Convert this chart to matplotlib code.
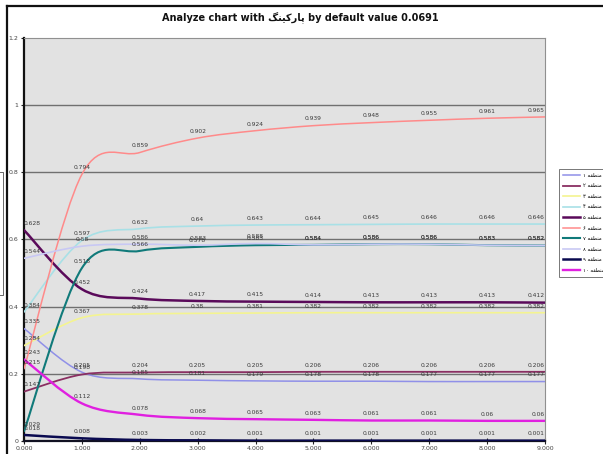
import matplotlib
matplotlib.use("Agg")
import matplotlib.pyplot as plt
import numpy as np
from matplotlib.path import Path
from matplotlib.patches import PathPatch
from matplotlib.lines import Line2D

# ----------------------------------------------------------------------
# DATA
# ----------------------------------------------------------------------
x_vals = [0, 1, 2, 3, 4, 5, 6, 7, 8, 9]
x_labels = ["0.000", "1.000", "2.000", "3.000", "4.000",
            "5.000", "6.000", "7.000", "8.000", "9.000"]

s1 = [0.335, 0.205, 0.185, 0.181, 0.179, 0.178, 0.178, 0.177, 0.177, 0.177]
s2 = [0.147, 0.198, 0.204, 0.205, 0.205, 0.206, 0.206, 0.206, 0.206, 0.206]
s3 = [0.284, 0.367, 0.378, 0.380, 0.381, 0.382, 0.382, 0.382, 0.382, 0.382]
s4 = [0.384, 0.597, 0.632, 0.640, 0.643, 0.644, 0.645, 0.646, 0.646, 0.646]
s5 = [0.628, 0.452, 0.424, 0.417, 0.415, 0.414, 0.413, 0.413, 0.413, 0.412]
s6 = [0.215, 0.794, 0.859, 0.902, 0.924, 0.939, 0.948, 0.955, 0.961, 0.965]
s7 = [0.029, 0.515, 0.566, 0.578, 0.583, 0.584, 0.586, 0.586, 0.583, 0.582]
s8 = [0.544, 0.580, 0.586, 0.583, 0.588, 0.584, 0.586, 0.586, 0.583, 0.582]
s9 = [0.018, 0.008, 0.003, 0.002, 0.001, 0.001, 0.001, 0.001, 0.001, 0.001]
s10 = [0.243, 0.112, 0.078, 0.068, 0.065, 0.063, 0.061, 0.061, 0.060, 0.060]

series = [s1, s2, s3, s4, s5, s6, s7, s8, s9, s10]

# "منطقه" in presentation forms, visual order (matplotlib does no RTL shaping)
WORD = "\uFEEA\uFED8\uFEC4\uFEE8\uFEE3"
DIGITS = ["\u06F1", "\u06F2", "\u06F3", "\u06F4", "\u06F5",
          "\u06F6", "\u06F7", "\u06F8", "\u06F9", "\u06F1\u06F0"]
names = [d + " " + WORD for d in DIGITS]
# "پارکینگ"
PARKING = "\uFB93\uFEE8\uFBFF\uFB90\uFEAD\uFE8E\uFB58"

COLORS = ["#9090e8", "#8a2f62", "#f4f490", "#a8e0e6", "#5a0a5a",
          "#ff8a8a", "#107a7a", "#c8c8f4", "#0a0a50", "#e020e0"]
WIDTHS = [1.1, 1.3, 1.2, 1.2, 1.8, 1.1, 1.5, 1.2, 1.8, 1.7]

PLOT_BG = "#e2e2e2"
GRID = "#707070"
LABEL = "#3a3a3a"


def smooth_path(xs, ys):
    # Excel-style smoothed line: cubic Bezier between the data points
    pts = np.column_stack([xs, ys]).astype(float)
    n = len(pts)
    verts = [pts[0]]
    codes = [Path.MOVETO]
    for i in range(n - 1):
        p0 = pts[max(i - 1, 0)]
        p1 = pts[i]
        p2 = pts[i + 1]
        p3 = pts[min(i + 2, n - 1)]
        c1 = p1 + (p2 - p0) / 6.0
        c2 = p2 - (p3 - p1) / 6.0
        verts += [c1, c2, p2]
        codes += [Path.CURVE4] * 3
    return Path(verts, codes)


W, H, DPI = 603, 454, 100
fig = plt.figure(figsize=(W / DPI, H / DPI), dpi=DPI, facecolor="white")

ax = fig.add_axes([24 / W, 13 / H, 521 / W, 403 / H])
ax.set_facecolor(PLOT_BG)
ax.set_xlim(0, 9)
ax.set_ylim(0, 1.2)

for yv in [0.2, 0.4, 0.6, 0.8, 1.0]:
    ax.axhline(yv, color=GRID, lw=1.0, zorder=1)

for ys, c, lw in zip(series, COLORS, WIDTHS):
    ax.add_patch(PathPatch(smooth_path(x_vals, ys), facecolor="none",
                           edgecolor=c, lw=lw, zorder=3, capstyle="round"))

for ys in series:
    for xv, yv in zip(x_vals, ys):
        ha = "center"
        if xv == x_vals[0]:
            ha = "left"
        elif xv == x_vals[-1]:
            ha = "right"
        txt = f"{yv:.3f}".rstrip("0").rstrip(".")
        ax.annotate(txt, (xv, yv), xytext=(0, 3), textcoords="offset points",
                    ha=ha, va="bottom", fontsize=4.3, color=LABEL, zorder=4)

ax.set_yticks([0, 0.2, 0.4, 0.6, 0.8, 1.0, 1.2])
ax.set_yticklabels(["0", "0.2", "0.4", "0.6", "0.8", "1", "1.2"])
ax.set_xticks(x_vals)
ax.set_xticklabels(x_labels)
ax.tick_params(axis="both", labelsize=4.5, labelcolor="#444444",
               length=2.5, width=0.8, color="#222222", pad=1.5)
ax.tick_params(axis="x", direction="inout", length=4)

for s in ("top", "right"):
    ax.spines[s].set_color("#909090")
    ax.spines[s].set_linewidth(0.8)
ax.spines["left"].set_color("#111111")
ax.spines["left"].set_linewidth(1.6)
ax.spines["bottom"].set_color("#111122")
ax.spines["bottom"].set_linewidth(1.6)

# title
fig.text(300 / W, 1 - 18 / H,
         "Analyze chart with " + PARKING + " by default value 0.0691",
         ha="center", va="center", fontsize=7, weight="bold", color="#111111",
         family=["DejaVu Sans"])

# legend
handles = [Line2D([], [], color=c, lw=lw) for c, lw in zip(COLORS, WIDTHS)]
leg = fig.legend(handles, names, loc="upper left",
                 bbox_to_anchor=(556 / W, 1 - 166 / H), frameon=True,
                 fontsize=3.6, handlelength=3.2, handletextpad=0.6,
                 labelspacing=1.05, borderpad=0.8, fancybox=False,
                 prop={"family": "DejaVu Sans", "size": 3.8})
leg.get_frame().set_edgecolor("#555555")
leg.get_frame().set_linewidth(0.7)

# outer chart frame + neighbour box edge
fig.add_artist(Line2D([7 / W, 7 / W], [0, 1 - 6 / H], color="#111111",
                      lw=1.6, transform=fig.transFigure))
fig.add_artist(Line2D([7 / W, 1], [1 - 6 / H, 1 - 6 / H], color="#111111",
                      lw=1.6, transform=fig.transFigure))
fig.add_artist(Line2D([0, 3 / W, 3 / W, 0],
                      [1 - 172 / H, 1 - 172 / H, 1 - 295 / H, 1 - 295 / H],
                      color="#666666", lw=0.7, transform=fig.transFigure))

fig.savefig("out.png", dpi=DPI, facecolor="white")
